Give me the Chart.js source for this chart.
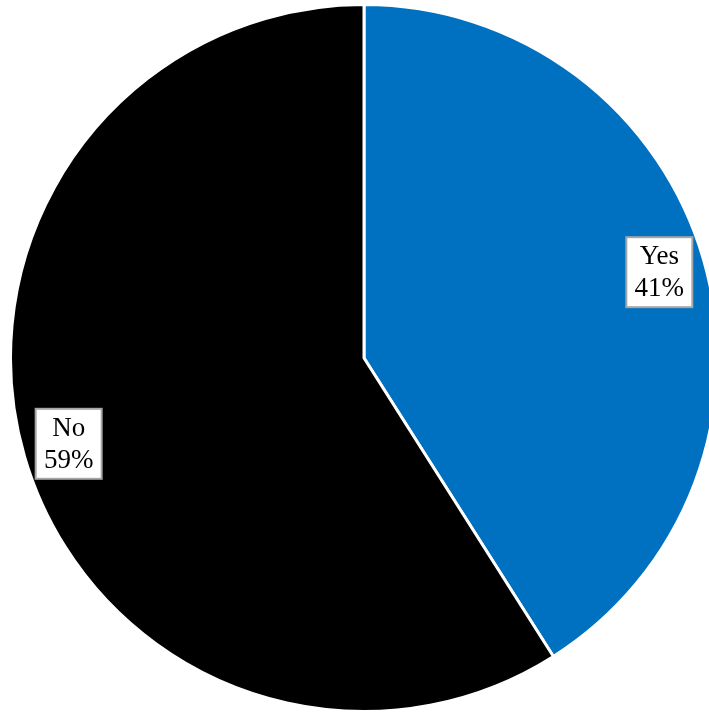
<!DOCTYPE html>
<html>
<head>
<meta charset="utf-8">
<script src="https://cdn.jsdelivr.net/npm/chart.js@4"></script>
<style>
  body { margin: 0; background: #fff; }
  #wrap { width: 709px; height: 713px; overflow: hidden; position: relative; }
  canvas { position: absolute; left: 0; top: 0; }
</style>
</head>
<body>
<div id="wrap"><canvas id="pie" width="728" height="716"></canvas></div>
<script>
const categories = ['Yes', 'No'];
const shares = [41, 59];
const sliceColors = ['#0070c0', '#000000'];

// boxed "name / percent" labels placed along each slice's mid angle
const boxLabels = {
  id: 'boxLabels',
  afterDatasetsDraw(chart) {
    const ctx = chart.ctx;
    const meta = chart.getDatasetMeta(0);
    const total = shares.reduce((a, b) => a + b, 0);
    ctx.save();
    ctx.font = '27px "Liberation Serif", "Times New Roman", serif';
    ctx.textAlign = 'center';
    ctx.textBaseline = 'middle';
    meta.data.forEach((arc, i) => {
      const p = arc.getProps(['x', 'y', 'startAngle', 'endAngle', 'outerRadius'], true);
      const mid = (p.startAngle + p.endAngle) / 2;
      const r = p.outerRadius * 0.87;
      const cx = p.x + Math.cos(mid) * r;
      const cy = p.y + Math.sin(mid) * r;
      const lines = [categories[i], Math.round(shares[i] / total * 100) + '%'];
      const w = 66, h = 70;
      ctx.fillStyle = '#ffffff';
      ctx.fillRect(cx - w / 2, cy - h / 2, w, h);
      ctx.strokeStyle = '#a6a6a6';
      ctx.lineWidth = 2;
      ctx.strokeRect(cx - w / 2, cy - h / 2, w, h);
      ctx.fillStyle = '#000000';
      ctx.fillText(lines[0], cx, cy - 15);
      ctx.fillText(lines[1], cx, cy + 17);
    });
    ctx.restore();
  }
};

new Chart(document.getElementById('pie'), {
  type: 'pie',
  data: {
    labels: categories,
    datasets: [{
      data: shares,
      backgroundColor: sliceColors,
      borderColor: '#ffffff',
      borderWidth: 3
    }]
  },
  options: {
    responsive: false,
    animation: false,
    layout: { padding: { left: 9, right: 9, top: 3, bottom: 3 } },
    plugins: {
      legend: { display: false },
      tooltip: { enabled: false }
    }
  },
  plugins: [boxLabels]
});
</script>
</body>
</html>
